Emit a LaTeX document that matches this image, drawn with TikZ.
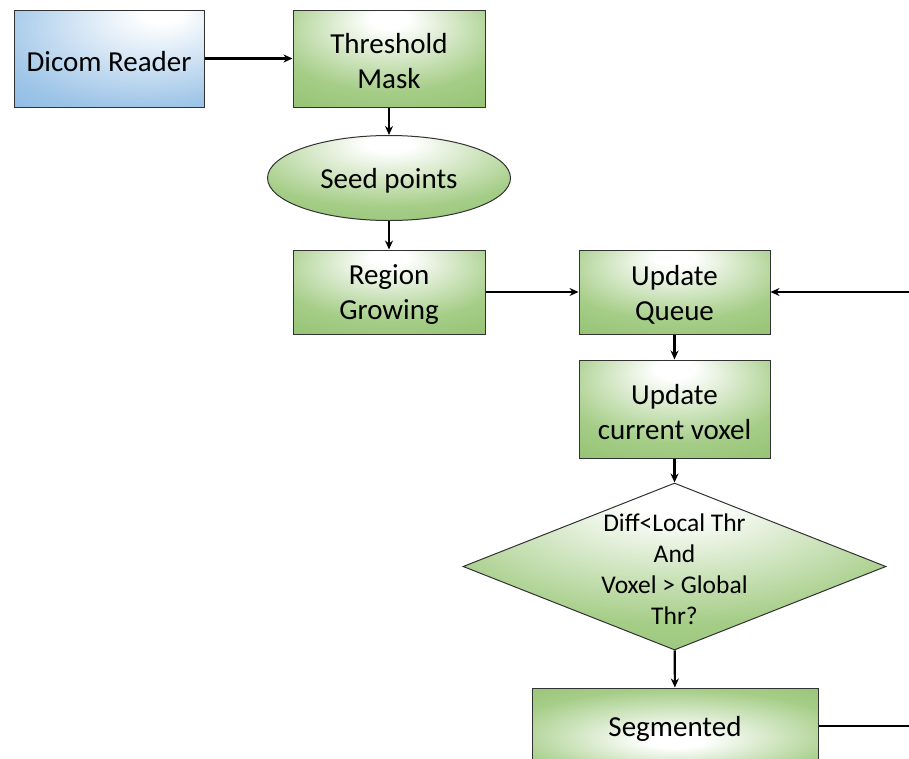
\documentclass[tikz,border=0pt]{standalone}
\usepackage{fontspec}
\setmainfont{Carlito}
\usetikzlibrary{shapes.geometric,arrows.meta}
\definecolor{gdark}{RGB}{112,173,71}
\definecolor{gmid}{RGB}{165,205,135}
\definecolor{bdark}{RGB}{91,155,213}
\definecolor{bmid}{RGB}{160,198,232}
\definecolor{edgec}{RGB}{50,50,50}
\pgfdeclareradialshading{greenrad}{\pgfpoint{0bp}{22bp}}{color(0bp)=(white); color(5bp)=(white); color(30bp)=(gmid); color(72bp)=(gdark)}
\pgfdeclareradialshading{greenradlow}{\pgfpoint{0bp}{-10bp}}{color(0bp)=(white); color(5bp)=(white); color(30bp)=(gmid); color(70bp)=(gdark)}
\pgfdeclareradialshading{bluerad}{\pgfpoint{15bp}{25bp}}{color(0bp)=(white); color(5bp)=(white); color(38bp)=(bmid); color(82bp)=(bdark)}
\begin{document}
\begin{tikzpicture}[x=1pt,y=-1pt,
  base/.style={draw=edgec, line width=1pt, inner sep=0pt, align=center,
    font=\fontsize{29}{35}\selectfont},
  gbox/.style={base, shading=greenrad, rectangle},
  bbox/.style={base, shading=bluerad, rectangle},
  gell/.style={base, shading=greenrad, ellipse},
  gdia/.style={base, shading=greenrad, diamond},
  lbl/.style={align=center, inner sep=0pt, font=\fontsize{29}{35}\selectfont},
  arr/.style={-{Stealth[length=9pt,width=8pt]}, line width=2.2pt, black}]
\useasboundingbox (0,0) rectangle (909,758);
\clip (0,0) rectangle (909,758);
\fill[white] (0,0) rectangle (909,758);

\node[bbox, minimum width=190, minimum height=97] (dicom) at (109,58.5) {};
\node[lbl] at ([yshift=-3pt]dicom.center) {Dicom Reader};
\node[gbox, minimum width=192, minimum height=97] (thr) at (389,58.5) {};
\node[lbl] at ([yshift=-3pt]thr.center) {Threshold\\Mask};
\node[gell, minimum width=243, minimum height=85] (seed) at (389,178) {};
\node[lbl] at ([yshift=-3pt]seed.center) {Seed points};
\node[gbox, minimum width=192, minimum height=84] (rg) at (389,292) {};
\node[lbl] at ([yshift=-3pt]rg.center) {Region\\Growing};
\node[gbox, minimum width=191, minimum height=84] (uq) at (674.5,292) {};
\node[lbl] at ([yshift=-3pt]uq.center) {Update\\Queue};
\node[gbox, minimum width=191, minimum height=98] (ucv) at (674.5,409) {};
\node[lbl] at ([yshift=-3pt]ucv.center) {Update\\current voxel};
\node[gdia, minimum width=423, minimum height=167] (dec) at (674.5,566.5) {};
\node[align=center, inner sep=0pt, font=\fontsize{25.5}{31}\selectfont] (dectext) at (674.5,569) {Diff<Local Thr\\And\\Voxel > Global\\Thr?};
\node[base, shading=greenradlow, rectangle, minimum width=286, minimum height=76] (seg) at (675,726) {};
\node[lbl] at ([yshift=-3pt]seg.center) {Segmented};
\coordinate (loopx) at (950,726);

\draw[arr] (dicom) -- (thr);
\draw[arr] (thr) -- (seed);
\draw[arr] (seed) -- (rg);
\draw[arr] (rg) -- (uq);
\draw[arr] (uq) -- (ucv);
\draw[arr] (ucv) -- (dec);
\draw[arr] (dec) -- (seg);
\draw[arr] (seg.east) -- (loopx) |- (uq.east);
\end{tikzpicture}
\end{document}
